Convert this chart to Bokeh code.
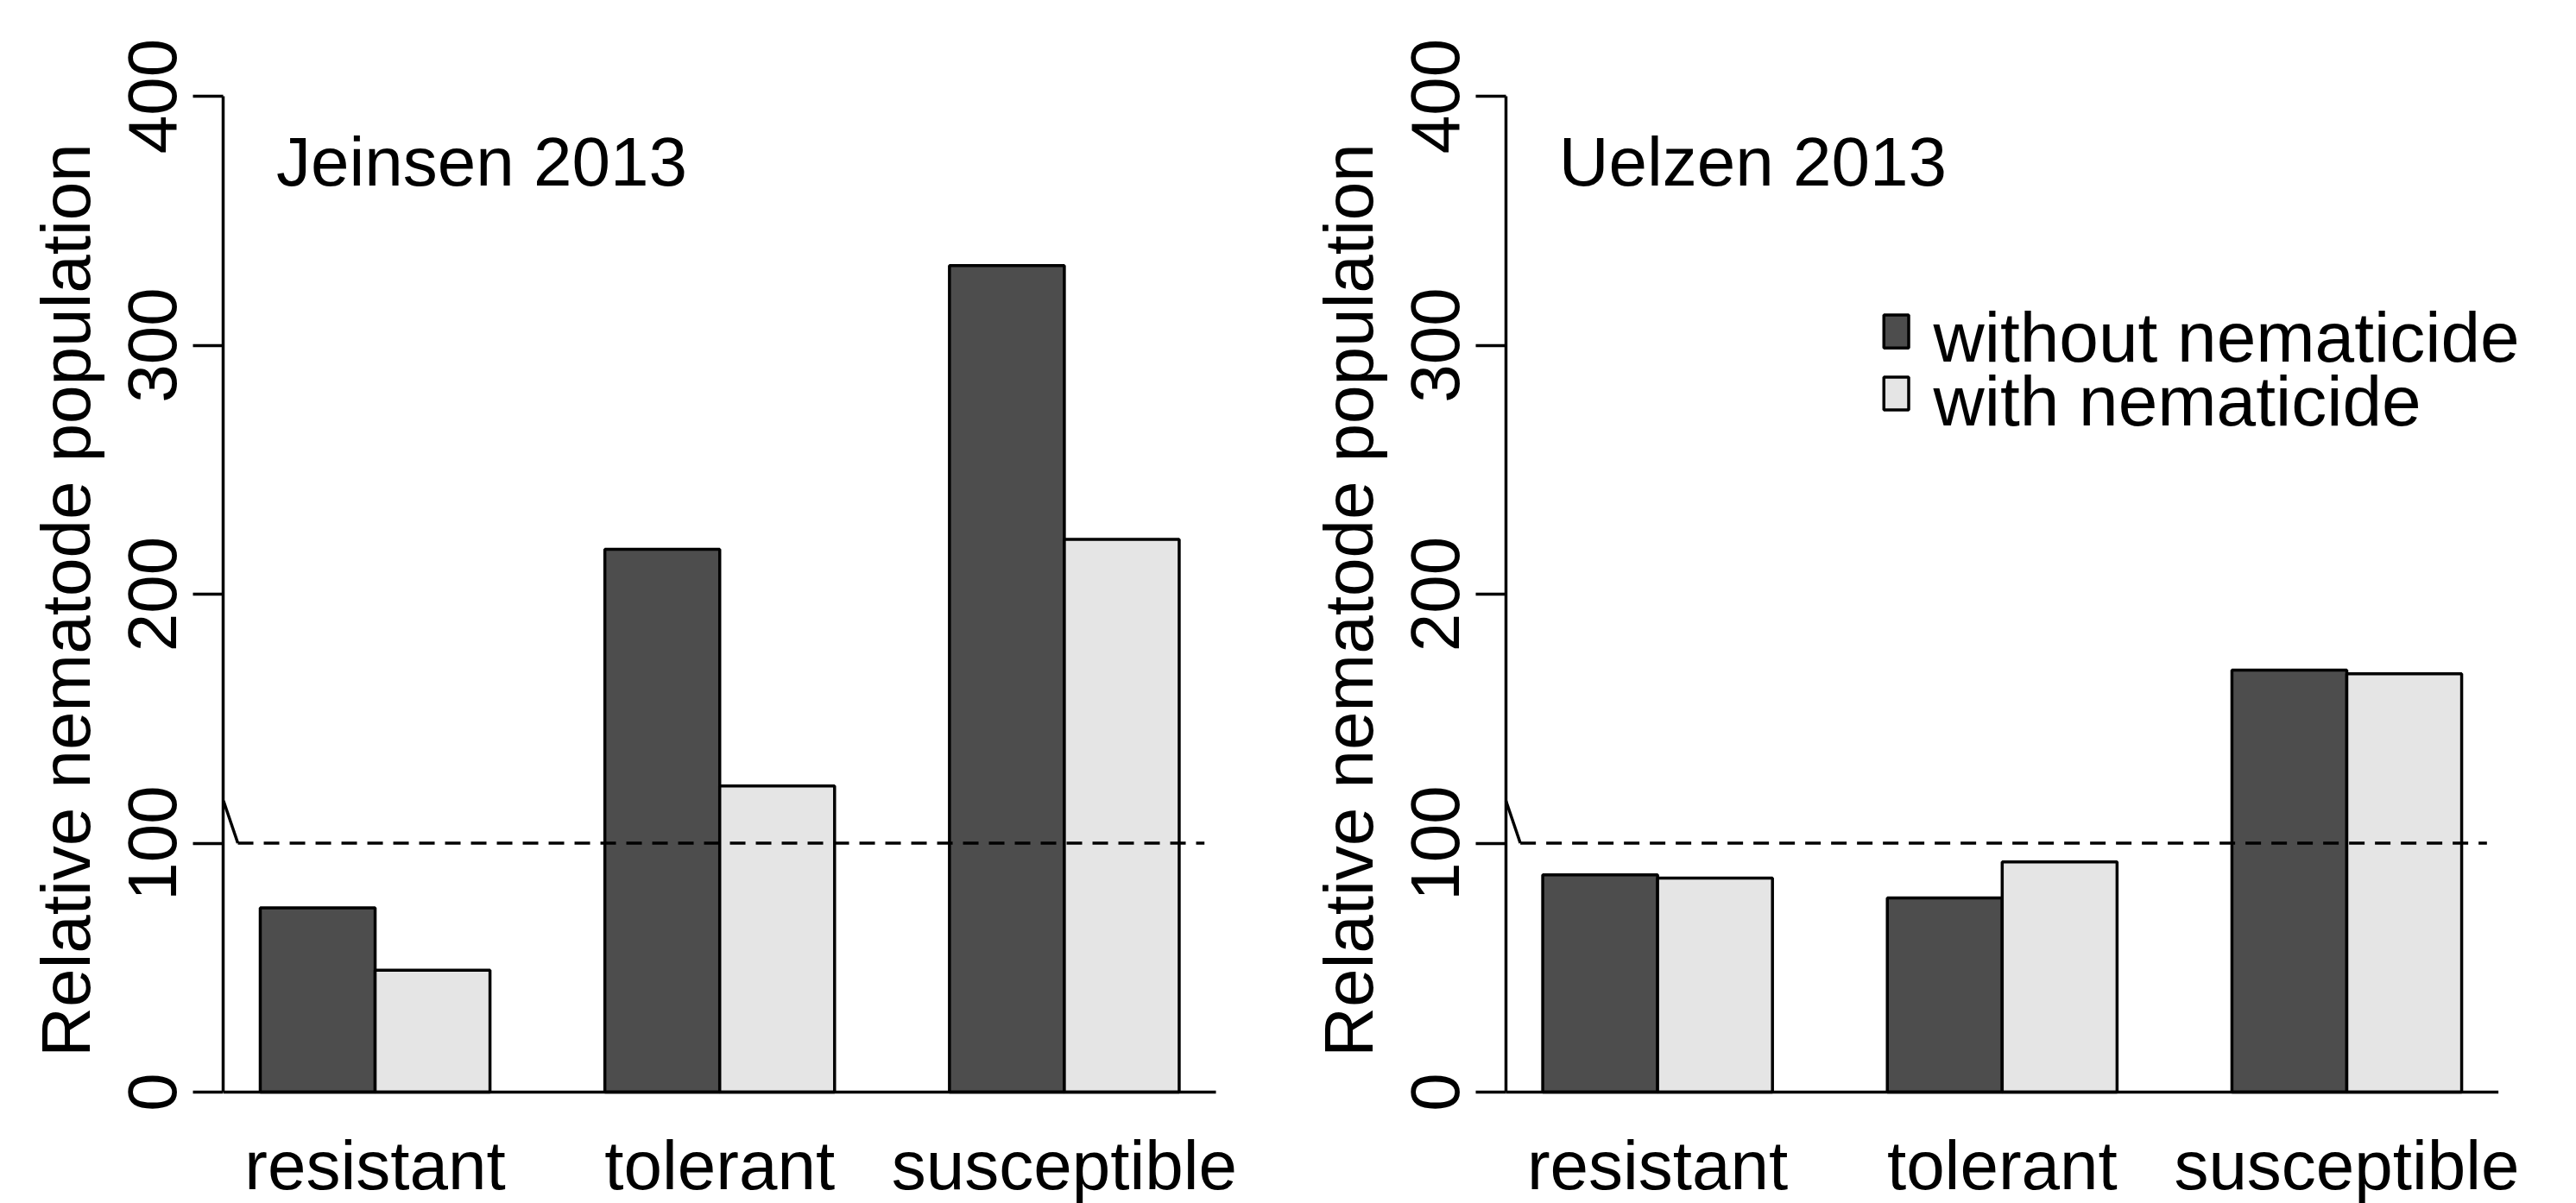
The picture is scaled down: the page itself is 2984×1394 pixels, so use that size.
from math import pi
from bokeh.plotting import figure
from bokeh.layouts import row
from bokeh.models import FixedTicker, Range1d, Label
from bokeh.embed import file_html
from bokeh.resources import INLINE

# ---------------- data ----------------
categories = ["resistant", "tolerant", "susceptible"]
series = ["without nematicide", "with nematicide"]
jeinsen_without = [74, 218, 332]
jeinsen_with = [49, 123, 222]
uelzen_without = [87.3, 78, 169.5]
uelzen_with = [86, 92.5, 168]
y_ticks = [0, 100, 200, 300, 400]
reference_level = 100
panel_titles = ["Jeinsen 2013", "Uelzen 2013"]
y_label = "Relative nematode population"

# ---------------- style / layout ----------------
FONT = "Liberation Sans"
FS = "80px"
FS_LEG = "82px"
LW = 3.5
DARK = "#4D4D4D"
LIGHT = "#E5E5E5"
X_LO, X_HI = 0.68, 9.32          # barplot plot-region limits (R style)
PX_X = 133.06                    # px per bar unit
PX_Y = 2.885                     # px per y unit
H = 1394
ZERO_PX = 1265                   # pixel row of y = 0
Y_RANGE = (-(H - ZERO_PX) / PX_Y, ZERO_PX / PX_Y)


def txt(p, x, y, s, align="left", angle=0.0, size=FS):
    p.add_layout(Label(x=x, y=y, text=s, x_units="data", y_units="data",
                       text_font=FONT, text_font_size=size, text_color="black",
                       text_align=align, text_baseline="alphabetic", angle=angle))


def make_panel(title, without, with_, show_legend, axis_px, width):
    x_range = Range1d(X_LO - axis_px / PX_X, X_LO + (width - axis_px) / PX_X)
    p = figure(width=width, height=H, x_range=x_range, y_range=Range1d(*Y_RANGE),
               output_backend="svg", toolbar_location=None, x_axis_location=None,
               min_border_left=0, min_border_right=0, min_border_top=0,
               min_border_bottom=0)
    p.outline_line_color = None
    p.background_fill_color = "white"
    p.border_fill_color = "white"
    p.xgrid.visible = False
    p.ygrid.visible = False

    n = len(categories)
    left_dark = [1 + 3 * i for i in range(n)]
    x_dark = [l + 0.5 for l in left_dark]
    x_light = [l + 1.5 for l in left_dark]
    x_group = [l + 1 for l in left_dark]

    p.vbar(x=x_dark, top=without, bottom=0, width=1, fill_color=DARK,
           line_color="black", line_width=LW)
    p.vbar(x=x_light, top=with_, bottom=0, width=1, fill_color=LIGHT,
           line_color="black", line_width=LW)

    # reference line at 100 with axis-break tick
    p.segment(x0=[0.805], y0=[reference_level], x1=[9.22], y1=[reference_level],
              line_color="black", line_width=LW, line_dash="18 12")
    p.segment(x0=[X_LO], y0=[117], x1=[0.805], y1=[reference_level],
              line_color="black", line_width=LW)

    # baseline (y = 0) across the plot region
    p.segment(x0=[X_LO], y0=[0], x1=[X_HI], y1=[0], line_color="black", line_width=LW)

    # category labels
    for xg, c in zip(x_group, categories):
        txt(p, xg, -29.5, c, align="center")

    # panel title
    txt(p, 1.14, 373.7, title)

    # y-axis title
    txt(p, -0.691, 197.6, y_label, align="center", angle=pi / 2)

    if show_legend:
        box_y = [305.5, 280.6]
        txt_y = [303.4, 277.7]
        p.quad(left=[3.97, 3.97], right=[4.186, 4.186],
               bottom=[y - 6.6 for y in box_y], top=[y + 6.6 for y in box_y],
               fill_color=[DARK, LIGHT], line_color="black", line_width=LW)
        for yy, s in zip(txt_y, series):
            txt(p, 4.40, yy, s, size=FS_LEG)

    ax = p.yaxis[0]
    ax.fixed_location = X_LO
    ax.bounds = (0, 400)
    ax.ticker = FixedTicker(ticks=y_ticks)
    ax.major_tick_out = 35
    ax.major_tick_in = 0
    ax.minor_tick_line_color = None
    ax.major_tick_line_width = LW
    ax.major_tick_line_color = "black"
    ax.axis_line_width = LW
    ax.axis_line_color = "black"
    ax.major_label_orientation = "vertical"
    ax.major_label_text_font = FONT
    ax.major_label_text_font_size = FS
    ax.major_label_text_color = "black"
    ax.major_label_standoff = 20
    return p


p1 = make_panel(panel_titles[0], jeinsen_without, jeinsen_with, False, 258.4, 1492)
p2 = make_panel(panel_titles[1], uelzen_without, uelzen_with, True, 252.0, 1490)
layout = row(p1, p2)

open("out.html", "w").write(file_html(layout, INLINE))
